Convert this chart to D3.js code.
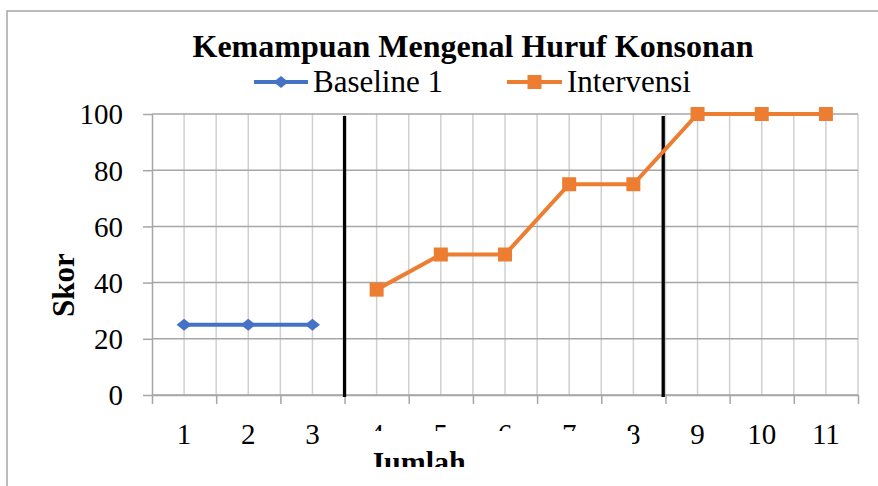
<!DOCTYPE html>
<html>
<head>
<meta charset="utf-8">
<script src="https://cdn.jsdelivr.net/npm/d3@7"></script>
<style>
  html, body { margin: 0; padding: 0; background: #fff; }
  svg { display: block; }
  svg text { font-family: "Liberation Serif", "Times New Roman", serif; }
</style>
</head>
<body>
<div id="chart"></div>
<script>
// Kemampuan Mengenal Huruf Konsonan - baseline vs intervensi line chart

const sessions   = [1, 2, 3, 4, 5, 6, 7, 8, 9, 10, 11]
const baselineX  = [1, 2, 3]
const baselineY  = [25, 25, 25]
const intervX    = [4, 5, 6, 7, 8, 9, 10, 11]
const intervY    = [37.5, 50, 50, 75, 75, 100, 100, 100]
const yTicks     = [0, 20, 40, 60, 80, 100]
const phaseLines = [3.5, 8.465]   // black phase change lines
const seriesNames = ["Baseline 1", "Intervensi"]

const W = 878, H = 486
const plot = { left: 152, right: 858, top: 114, bottom: 395 }

const svg = d3.select("#chart").append("svg")
  .attr("width", W).attr("height", H)

// outer chart frame (only top and left edges fall inside the picture)
svg.append("path")
  .attr("d", `M7,${H} V11 H${W}`)
  .attr("fill", "none").attr("stroke", "#a6a6a6").attr("stroke-width", 1.5)

const x = d3.scaleLinear().domain([0.5, 11.5]).range([plot.left, plot.right])
const y = d3.scaleLinear().domain([0, 100]).range([plot.bottom, plot.top])

// vertical gridlines every half step (category centres and boundaries)
const halfSteps = d3.range(1, 11.51, 0.5)
svg.append("g").selectAll("line")
  .data(halfSteps)
  .join("line")
  .attr("x1", d => x(d)).attr("x2", d => x(d))
  .attr("y1", plot.top).attr("y2", plot.bottom)
  .attr("stroke", "#d0d0d0").attr("stroke-width", 1.5)

// horizontal gridlines
svg.append("g").selectAll("line")
  .data(yTicks)
  .join("line")
  .attr("x1", plot.left).attr("x2", plot.right)
  .attr("y1", d => y(d)).attr("y2", d => y(d))
  .attr("stroke", "#a6a6a6").attr("stroke-width", 1.5)

// y axis with tick marks
const yAxis = svg.append("g")
  .attr("transform", `translate(${plot.left},0)`)
  .call(d3.axisLeft(y).tickValues(yTicks).tickSize(9).tickSizeOuter(0).tickPadding(20))
yAxis.select(".domain").attr("stroke", "#a6a6a6").attr("stroke-width", 1.5)
yAxis.selectAll(".tick line").attr("stroke", "#a6a6a6").attr("stroke-width", 1.5)
yAxis.selectAll("text")
  .attr("font-family", "Liberation Serif").attr("font-size", 29)
  .attr("fill", "#000").attr("dy", "0.34em")

// x axis: tick marks at category boundaries
const boundaries = d3.range(0.5, 11.51, 1)
const xAxis = svg.append("g")
  .attr("transform", `translate(0,${plot.bottom})`)
  .call(d3.axisBottom(x).tickValues(boundaries).tickSize(9).tickSizeOuter(0).tickFormat(""))
xAxis.select(".domain").attr("stroke", "#a6a6a6").attr("stroke-width", 1.5)
xAxis.selectAll(".tick line").attr("stroke", "#a6a6a6").attr("stroke-width", 1.5)

// category labels centred under each session
svg.append("g").selectAll("text")
  .data(sessions)
  .join("text")
  .attr("x", d => x(d)).attr("y", 444)
  .attr("text-anchor", "middle")
  .attr("font-size", 29).attr("fill", "#000")
  .text(d => d)

// white text box that hides part of the labels in the source document
svg.append("rect")
  .attr("x", 364).attr("y", 431).attr("width", 268).attr("height", H - 431)
  .attr("fill", "#fff")

svg.append("clipPath").attr("id", "xtitleClip")
  .append("rect").attr("x", 364).attr("y", 431).attr("width", 268).attr("height", 36)

svg.append("text")
  .attr("clip-path", "url(#xtitleClip)")
  .attr("x", 369).attr("y", 472)
  .attr("font-size", 30).attr("font-weight", "bold").attr("fill", "#000")
  .text("Jumlah")

// y axis title
svg.append("text")
  .attr("transform", "translate(74,285) rotate(-90)")
  .attr("text-anchor", "middle")
  .attr("font-size", 31).attr("font-weight", "bold").attr("fill", "#000")
  .text("Skor")

// phase change lines
svg.append("g").selectAll("line")
  .data(phaseLines)
  .join("line")
  .attr("x1", d => x(d)).attr("x2", d => x(d))
  .attr("y1", 116).attr("y2", plot.bottom + 2)
  .attr("stroke", "#000").attr("stroke-width", 3.3)

const line = d3.line().x(d => x(d[0])).y(d => y(d[1]))
const blue = "#4472c4", orange = "#ed7d31"
const baseData   = d3.zip(baselineX, baselineY)
const intervData = d3.zip(intervX, intervY)

svg.append("path").datum(baseData)
  .attr("d", line).attr("fill", "none")
  .attr("stroke", blue).attr("stroke-width", 4)
svg.append("path").datum(intervData)
  .attr("d", line).attr("fill", "none")
  .attr("stroke", orange).attr("stroke-width", 4)

const diamond = "M0,-6 L7.5,0 L0,6 L-7.5,0 Z"

svg.append("g").selectAll("path")
  .data(baseData)
  .join("path")
  .attr("transform", d => `translate(${x(d[0])},${y(d[1])})`)
  .attr("d", diamond).attr("fill", blue)

svg.append("g").selectAll("rect")
  .data(intervData)
  .join("rect")
  .attr("x", d => x(d[0]) - 7).attr("y", d => y(d[1]) - 7)
  .attr("width", 14).attr("height", 14)
  .attr("fill", orange)

// title
svg.append("text")
  .attr("x", 473).attr("y", 57)
  .attr("text-anchor", "middle")
  .attr("font-size", 32).attr("font-weight", "bold").attr("fill", "#000")
  .text("Kemampuan Mengenal Huruf Konsonan")

// legend
const legend = svg.append("g")
const legItems = [
  { name: seriesNames[0], color: blue, x1: 254, x2: 308, tx: 313, mark: "diamond" },
  { name: seriesNames[1], color: orange, x1: 507, x2: 562, tx: 567, mark: "square" }
]
legItems.forEach(d => {
  legend.append("line")
    .attr("x1", d.x1).attr("x2", d.x2).attr("y1", 82).attr("y2", 82)
    .attr("stroke", d.color).attr("stroke-width", 4)
  const cx = (d.x1 + d.x2) / 2
  if (d.mark === "diamond") {
    legend.append("path").attr("transform", `translate(${cx},82)`)
      .attr("d", diamond).attr("fill", d.color)
  } else {
    legend.append("rect").attr("x", cx - 7).attr("y", 75)
      .attr("width", 14).attr("height", 14).attr("fill", d.color)
  }
  legend.append("text")
    .attr("x", d.tx).attr("y", 92)
    .attr("font-size", 31).attr("fill", "#000")
    .text(d.name)
})
</script>
</body>
</html>
